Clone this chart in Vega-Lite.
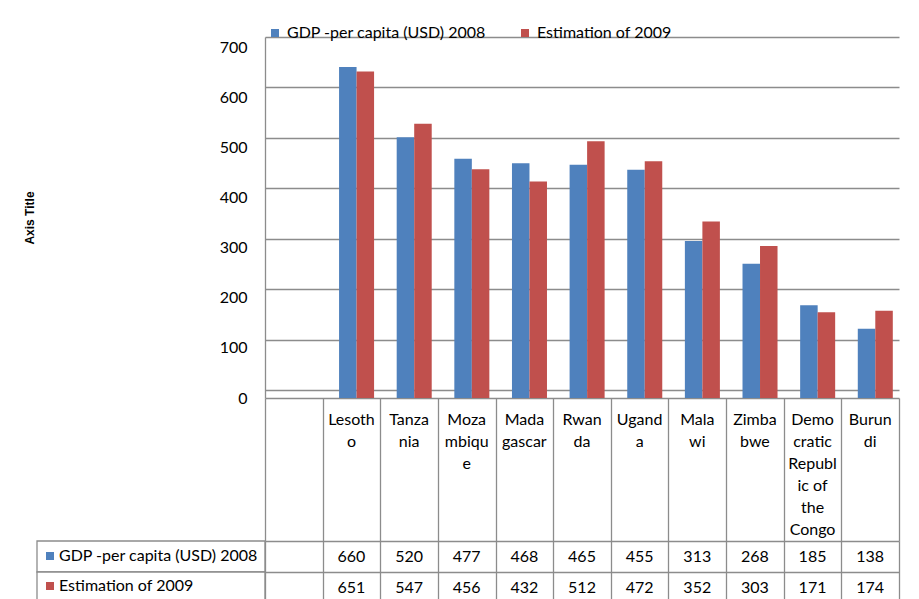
{
  "$schema": "https://vega.github.io/schema/vega-lite/v6.json",
  "background": "white",
  "padding": {"left": 23, "top": 25, "right": 5, "bottom": 0},
  "config": {
    "view": {"stroke": null},
    "font": "Lato",
    "axis": {"labelFont": "Lato", "labelFontSize": 16, "labelColor": "#000000"},
    "legend": {"labelFont": "Lato", "labelFontSize": 16, "labelColor": "#000000", "labelLimit": 400, "symbolOpacity": 1}
  },
  "datasets": {
    "d": [
      {"country": "Lesotho", "series": "GDP -per capita (USD) 2008", "value": 660},
      {"country": "Tanzania", "series": "GDP -per capita (USD) 2008", "value": 520},
      {"country": "Mozambique", "series": "GDP -per capita (USD) 2008", "value": 477},
      {"country": "Madagascar", "series": "GDP -per capita (USD) 2008", "value": 468},
      {"country": "Rwanda", "series": "GDP -per capita (USD) 2008", "value": 465},
      {"country": "Uganda", "series": "GDP -per capita (USD) 2008", "value": 455},
      {"country": "Malawi", "series": "GDP -per capita (USD) 2008", "value": 313},
      {"country": "Zimbabwe", "series": "GDP -per capita (USD) 2008", "value": 268},
      {"country": "Democratic Republic of the Congo", "series": "GDP -per capita (USD) 2008", "value": 185},
      {"country": "Burundi", "series": "GDP -per capita (USD) 2008", "value": 138},
      {"country": "Lesotho", "series": "Estimation of 2009", "value": 651},
      {"country": "Tanzania", "series": "Estimation of 2009", "value": 547},
      {"country": "Mozambique", "series": "Estimation of 2009", "value": 456},
      {"country": "Madagascar", "series": "Estimation of 2009", "value": 432},
      {"country": "Rwanda", "series": "Estimation of 2009", "value": 512},
      {"country": "Uganda", "series": "Estimation of 2009", "value": 472},
      {"country": "Malawi", "series": "Estimation of 2009", "value": 352},
      {"country": "Zimbabwe", "series": "Estimation of 2009", "value": 303},
      {"country": "Democratic Republic of the Congo", "series": "Estimation of 2009", "value": 171},
      {"country": "Burundi", "series": "Estimation of 2009", "value": 174}
    ],
    "s": [
      {"series": "GDP -per capita (USD) 2008"},
      {"series": "Estimation of 2009"}
    ]
  },
  "columns": 2,
  "spacing": {"row": 143, "column": 0},
  "bounds": "flush",
  "resolve": {
    "scale": {"x": "independent", "y": "independent", "color": "independent"},
    "legend": {"color": "independent"}
  },
  "concat": [
    {
      "width": 228,
      "height": 361,
      "data": {"name": "s"},
      "mark": {"type": "rect", "opacity": 0},
      "encoding": {}
    },
    {
      "width": 634,
      "height": 361,
      "data": {"name": "d"},
      "layer": [
        {
          "mark": {"type": "rule", "opacity": 0},
          "encoding": {
            "y": {
              "field": "value", "type": "quantitative",
              "scale": {"domain": [-15.9, 700], "nice": false, "zero": false},
              "axis": {"orient": "right", "grid": true, "values": [0, 100, 200, 300, 400, 500, 600, 700],
                       "labels": false, "ticks": false, "domain": false, "title": null,
                       "gridColor": "#8c8c8c", "gridWidth": 1.3}
            }
          }
        },
        {
          "mark": {"type": "bar", "opacity": 1},
          "encoding": {
            "x": {
              "field": "country", "type": "nominal",
              "scale": {"domain": [" ", "Lesotho", "Tanzania", "Mozambique", "Madagascar", "Rwanda", "Uganda", "Malawi", "Zimbabwe", "Democratic Republic of the Congo", "Burundi"], "paddingInner": 0, "paddingOuter": 0},
              "axis": {
                "title": null, "ticks": false, "labelAngle": 0, "labelBaseline": "top", "labelPadding": 13,
                "labelLineHeight": 22, "labelOverlap": false, "domainColor": "#8c8c8c", "domainWidth": 1.3,
                "labelExpr": "datum.value == 'Lesotho' ? ['Lesoth','o'] : datum.value == 'Tanzania' ? ['Tanza','nia'] : datum.value == 'Mozambique' ? ['Moza','mbiqu','e'] : datum.value == 'Madagascar' ? ['Mada','gascar'] : datum.value == 'Rwanda' ? ['Rwan','da'] : datum.value == 'Uganda' ? ['Ugand','a'] : datum.value == 'Malawi' ? ['Mala','wi'] : datum.value == 'Zimbabwe' ? ['Zimba','bwe'] : datum.value == 'Democratic Republic of the Congo' ? ['Demo','cratic','Republ','ic of','the','Congo'] : datum.value == 'Burundi' ? ['Burun','di'] : ''"
              }
            },
            "xOffset": {
              "field": "series", "type": "nominal",
              "scale": {"domain": ["GDP -per capita (USD) 2008", "Estimation of 2009"], "paddingInner": 0, "paddingOuter": 0.646, "align": 0.726}
            },
            "y": {
              "field": "value", "type": "quantitative",
              "scale": {"domain": [0, 720], "nice": false},
              "axis": {"orient": "left", "values": [0, 100, 200, 300, 400, 500, 600, 700], "grid": false, "ticks": false,
                       "labelPadding": 18, "domainColor": "#8c8c8c", "domainWidth": 1.3,
                       "title": "Axis Title", "titleFont": "Liberation Sans", "titleFontSize": 12, "titleFontWeight": "bold",
                       "titleColor": "#000000", "titlePadding": 183}
            },
            "color": {
              "field": "series", "type": "nominal",
              "scale": {"domain": ["GDP -per capita (USD) 2008", "Estimation of 2009"], "range": ["#4F81BD", "#C0504D"]},
              "legend": {"orient": "none", "legendX": 2, "legendY": -12, "direction": "horizontal", "title": null,
                         "symbolType": "square", "symbolSize": 64, "symbolStrokeWidth": 0, "columnPadding": 30, "labelOffset": 4}
            }
          }
        }
      ],
      "resolve": {"scale": {"y": "independent"}}
    },
    {
      "width": 228,
      "height": 62,
      "data": {"name": "s"},
      "layer": [
        {
          "mark": {"type": "rect", "fill": "white", "stroke": "#8c8c8c", "strokeWidth": 1.3},
          "encoding": {
            "y": {"field": "series", "type": "nominal",
                  "scale": {"domain": ["GDP -per capita (USD) 2008", "Estimation of 2009"], "paddingInner": 0, "paddingOuter": 0},
                  "axis": null}
          }
        },
        {
          "mark": {"type": "point", "filled": true, "shape": "square", "size": 0, "opacity": 1},
          "encoding": {
            "y": {"field": "series", "type": "nominal"},
            "color": {
              "field": "series", "type": "nominal",
              "scale": {"domain": ["GDP -per capita (USD) 2008", "Estimation of 2009"], "range": ["#4F81BD", "#C0504D"]},
              "legend": {"orient": "none", "legendX": 5, "legendY": 7, "direction": "vertical", "title": null,
                         "symbolType": "square", "symbolSize": 64, "symbolStrokeWidth": 0, "rowPadding": 14, "labelOffset": 1}
            }
          }
        }
      ]
    },
    {
      "width": 634,
      "height": 62,
      "data": {"name": "d"},
      "mark": {"type": "text", "fontSize": 16, "font": "Lato", "color": "#000000"},
      "encoding": {
        "x": {
          "field": "country", "type": "nominal",
          "scale": {"domain": [" ", "Lesotho", "Tanzania", "Mozambique", "Madagascar", "Rwanda", "Uganda", "Malawi", "Zimbabwe", "Democratic Republic of the Congo", "Burundi"], "paddingInner": 0, "paddingOuter": 0},
          "axis": {"orient": "top", "tickBand": "extent", "grid": true, "gridColor": "#8c8c8c", "gridWidth": 1.3, "ticks": true, "tickSize": 143,
                   "tickColor": "#8c8c8c", "tickWidth": 1.3, "labels": false, "domain": false, "title": null}
        },
        "y": {
          "field": "series", "type": "nominal",
          "scale": {"domain": ["GDP -per capita (USD) 2008", "Estimation of 2009"], "paddingInner": 0, "paddingOuter": 0},
          "axis": {"tickBand": "extent", "grid": true, "gridColor": "#8c8c8c", "gridWidth": 1.3, "ticks": false, "labels": false, "domain": false, "title": null}
        },
        "text": {"field": "value", "type": "quantitative"}
      }
    }
  ]
}
